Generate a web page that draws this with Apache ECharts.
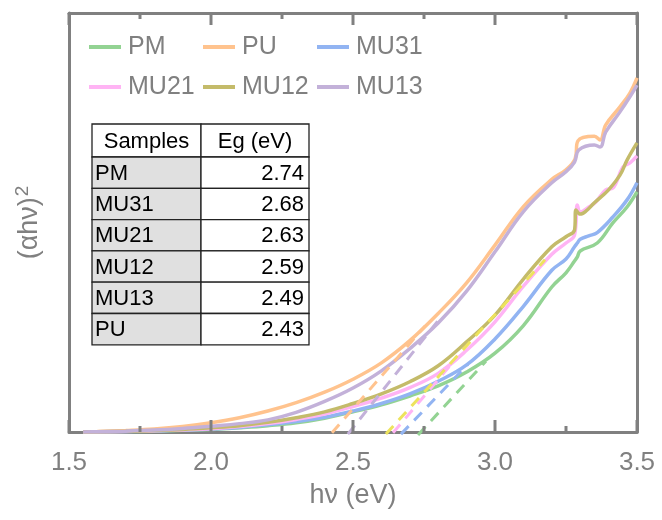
<!DOCTYPE html>
<html>
<head>
    <meta http-equiv="content-type" content="text/html;charset=utf-8">
    <script src="https://cdn.jsdelivr.net/npm/echarts@6/dist/echarts.min.js"></script>
    <style>
        html, body { margin: 0; padding: 0; background: #fff; }
        #chart { width: 662px; height: 520px; }
    </style>
</head>
<body>
<div id="chart"></div>

<script type="text/javascript">
    // photon energy (eV) and (ahv)^2 in arbitrary units
    var pmX = [1.55, 1.7, 1.8, 1.9, 2.0, 2.1, 2.2, 2.3, 2.4, 2.5, 2.6, 2.7, 2.8, 2.9, 3.0, 3.1, 3.2, 3.25, 3.28, 3.29, 3.3, 3.36, 3.415, 3.465, 3.5];
    var pmY = [0, 0.1, 0.2, 0.4, 0.6, 1.0, 1.5, 2.2, 3.3, 4.8, 6.5, 8.6, 11.0, 14.3, 18.8, 25.4, 34.6, 38.0, 40.8, 41.8, 43.2, 45.1, 49.9, 53.7, 57.3];

    var puX = [1.55, 1.6, 1.7, 1.8, 1.9, 2.0, 2.1, 2.2, 2.3, 2.4, 2.5, 2.6, 2.7, 2.8, 2.9, 3.0, 3.1, 3.2, 3.25, 3.282, 3.292, 3.35, 3.37, 3.39, 3.44, 3.475, 3.5];
    var puY = [0, 0.1, 0.35, 0.7, 1.3, 2.2, 3.4, 5.0, 7.0, 9.5, 12.6, 16.5, 21.8, 28.3, 35.6, 44.6, 53.8, 60.3, 62.6, 65.2, 69.5, 70.6, 69.7, 73.3, 77.6, 80.9, 84.5];

    var mu31X = [1.55, 1.7, 1.8, 1.9, 2.0, 2.1, 2.2, 2.3, 2.4, 2.5, 2.6, 2.7, 2.8, 2.9, 3.0, 3.1, 3.2, 3.25, 3.28, 3.29, 3.3, 3.33, 3.36, 3.415, 3.465, 3.5];
    var mu31Y = [0, 0.1, 0.25, 0.45, 0.7, 1.1, 1.7, 2.5, 3.5, 5.0, 6.8, 9.1, 12.1, 16.0, 22.2, 30.0, 38.6, 41.3, 44.2, 45.1, 46.0, 46.8, 47.6, 51.3, 55.4, 59.5];

    var mu21X = [1.55, 1.7, 1.8, 1.9, 2.0, 2.1, 2.2, 2.3, 2.4, 2.5, 2.6, 2.7, 2.8, 2.9, 3.0, 3.1, 3.2, 3.25, 3.28, 3.29, 3.3, 3.33, 3.355, 3.39, 3.415, 3.45, 3.475, 3.5];
    var mu21Y = [0, 0.1, 0.3, 0.5, 0.8, 1.3, 2.0, 3.0, 4.3, 6.1, 8.1, 10.6, 14.0, 19.5, 26.3, 34.8, 42.4, 45.1, 47.0, 54.2, 52.5, 53.7, 54.9, 57.8, 58.2, 63.2, 64.2, 65.9];

    var mu12X = [1.55, 1.7, 1.8, 1.9, 2.0, 2.1, 2.2, 2.3, 2.4, 2.5, 2.6, 2.7, 2.8, 2.9, 3.0, 3.1, 3.2, 3.25, 3.28, 3.285, 3.3, 3.32, 3.35, 3.4, 3.44, 3.465, 3.5];
    var mu12Y = [0, 0.15, 0.35, 0.6, 1.0, 1.5, 2.3, 3.4, 4.8, 6.8, 9.1, 12.0, 15.8, 21.5, 27.9, 36.5, 44.2, 46.6, 48.2, 53.0, 52.0, 52.7, 54.7, 57.8, 61.3, 64.9, 69.0];

    var mu13X = [1.55, 1.6, 1.7, 1.8, 1.9, 2.0, 2.1, 2.2, 2.3, 2.4, 2.5, 2.6, 2.7, 2.8, 2.9, 3.0, 3.1, 3.2, 3.25, 3.28, 3.295, 3.35, 3.37, 3.39, 3.44, 3.475, 3.5];
    var mu13Y = [0, 0.05, 0.2, 0.45, 0.85, 1.4, 2.0, 2.9, 4.7, 7.3, 10.5, 14.6, 19.9, 26.0, 33.6, 43.0, 52.6, 59.5, 62.1, 64.4, 67.3, 68.5, 68.0, 71.6, 76.4, 80.0, 82.8];

    // tangent (Tauc) lines: [start, end] as [eV, value]
    var pmFit = [[2.729, -0.7], [2.968, 16.9]];
    var puFit = [[2.426, -0.2], [2.754, 25.3]];
    var mu31Fit = [[2.669, -0.5], [2.905, 16.2]];
    var mu21Fit = [[2.641, -0.2], [2.870, 18.1]];
    var mu12Fit = [[2.616, -0.5], [3.176, 41.1]];
    var mu13Fit = [[2.482, -0.5], [2.799, 26.5]];

    // table
    var samples = ['PM', 'MU31', 'MU21', 'MU12', 'MU13', 'PU'];
    var egValues = ['2.74', '2.68', '2.63', '2.59', '2.49', '2.43'];

    // x ticks on bottom and top edge: majors every 0.5, minors between
    var majorTicks = [1.5, 2.0, 2.5, 3.0, 3.5];
    var minorTicks = [1.75, 2.25, 2.75, 3.25];

    var font = 'Liberation Sans';
    var grey = '#808080';
    var yMin = 0, yMax = 100;

    function zip(xs, ys) {
        var out = [];
        for (var i = 0; i < xs.length; i++) {
            out.push([xs[i], ys[i]]);
        }
        return out;
    }

    function curve(name, xs, ys, color) {
        return {
            name: name, type: 'line', data: zip(xs, ys),
            showSymbol: false, smooth: 0.4,
            color: color,
            lineStyle: {width: 3.5, color: color},
            z: 2
        };
    }

    function fit(name, pts, color) {
        return {
            name: name, type: 'line', data: pts,
            showSymbol: false, clip: false, silent: true,
            lineStyle: {width: 3, color: color, type: [11, 8]},
            z: 3
        };
    }

    // inward ticks drawn by a custom series, placed with api.coord
    function tickItems() {
        var data = [];
        for (var i = 0; i < majorTicks.length; i++) data.push([majorTicks[i], 12]);
        for (var j = 0; j < minorTicks.length; j++) data.push([minorTicks[j], 6]);
        return data;
    }
    var tickSeries = {
        type: 'custom', data: tickItems(), silent: true, clip: false,
        encode: {x: 0},
        zlevel: 1, z: 1,
        renderItem: function (params, api) {
            var v = api.value(0);
            var len = api.value(1);
            var pb = api.coord([v, yMin]);
            var pt = api.coord([v, yMax]);
            return {
                type: 'group',
                children: [
                    {type: 'line', shape: {x1: pb[0], y1: pb[1], x2: pb[0], y2: pb[1] - len},
                        style: {stroke: grey, lineWidth: 3}},
                    {type: 'line', shape: {x1: pt[0], y1: pt[1], x2: pt[0], y2: pt[1] + len},
                        style: {stroke: grey, lineWidth: 3}}
                ]
            };
        }
    };

    // table built from graphic rects and texts
    var tableEls = [];
    var tx0 = 92, tx1 = 201, tx2 = 309, ty0 = 124, headH = 33, rowH = 31.3;
    function cell(x, y, w, h, fill) {
        tableEls.push({type: 'rect', shape: {x: x, y: y, width: w, height: h},
            style: {fill: fill, stroke: '#222', lineWidth: 1.3}, z: 5});
    }
    function label(x, y, text, align) {
        tableEls.push({type: 'text', x: x, y: y, z: 6,
            style: {text: text, fontSize: 22, fontFamily: font, fill: '#000', align: align, verticalAlign: 'middle'}});
    }
    cell(tx0, ty0, tx1 - tx0, headH, '#fff');
    cell(tx1, ty0, tx2 - tx1, headH, '#fff');
    label((tx0 + tx1) / 2, ty0 + headH / 2 + 1, 'Samples', 'center');
    label((tx1 + tx2) / 2, ty0 + headH / 2 + 1, 'Eg (eV)', 'center');
    for (var i = 0; i < samples.length; i++) {
        var y = ty0 + headH + i * rowH;
        cell(tx0, y, tx1 - tx0, rowH, '#e0e0e0');
        cell(tx1, y, tx2 - tx1, rowH, '#fff');
        label(tx0 + 3, y + rowH / 2 + 1, samples[i], 'left');
        label(tx2 - 5, y + rowH / 2 + 1, egValues[i], 'right');
    }

    var legendBase = {
        orient: 'vertical', top: 27, itemGap: 10, itemWidth: 32, itemHeight: 4,
        icon: 'rect', textStyle: {fontSize: 25, color: grey, fontFamily: font, lineHeight: 30, padding: [0, 0, 0, 2]}
    };
    function legendCol(left, names) {
        var l = Object.assign({}, legendBase);
        l.left = left;
        l.data = names;
        return l;
    }

    function axisCommon() {
        return {
            type: 'value', min: 1.5, max: 3.5, interval: 0.5,
            axisLine: {show: true, onZero: false, lineStyle: {color: grey, width: 3}},
            axisTick: {show: false},
            splitLine: {show: false}, minorSplitLine: {show: false}
        };
    }

    var series = [
        tickSeries,
        curve('PM', pmX, pmY, '#93d393'),
        curve('PU', puX, puY, '#ffc38e'),
        curve('MU31', mu31X, mu31Y, '#92b4f2'),
        curve('MU21', mu21X, mu21Y, '#ffb4f4'),
        curve('MU12', mu12X, mu12Y, '#c4bb6a'),
        curve('MU13', mu13X, mu13Y, '#c3b1d9'),
        fit('PM fit', pmFit, '#93d393'),
        fit('PU fit', puFit, '#ffc38e'),
        fit('MU31 fit', mu31Fit, '#92b4f2'),
        fit('MU21 fit', mu21Fit, '#ffb4f4'),
        fit('MU12 fit', mu12Fit, '#ede35d'),
        fit('MU13 fit', mu13Fit, '#c3b1d9')
    ];

    var myChart = echarts.init(document.getElementById('chart'));
    var option = {
        animation: false,
        backgroundColor: '#fff',
        grid: {show: false, left: 69, right: 25, top: 13, bottom: 88},
        legend: [
            legendCol(84, ['PM', 'MU21']),
            legendCol(198, ['PU', 'MU12']),
            legendCol(312, ['MU31', 'MU13'])
        ],
        xAxis: [
            Object.assign(axisCommon(), {
                position: 'bottom',
                axisLabel: {margin: 18, fontSize: 26, color: grey, fontFamily: font,
                    formatter: function (v) { return v.toFixed(1); }},
                name: 'hν (eV)', nameLocation: 'middle', nameGap: 50,
                nameTextStyle: {fontSize: 27, color: grey, fontFamily: font}
            }),
            Object.assign(axisCommon(), {
                position: 'top', axisLabel: {show: false}
            })
        ],
        yAxis: [
            {
                type: 'value', min: yMin, max: yMax, position: 'left',
                axisLine: {show: true, onZero: false, lineStyle: {color: grey, width: 3}},
                axisTick: {show: false}, axisLabel: {show: false}, splitLine: {show: false},
                name: '{a|(αhν)}{s|2}', nameLocation: 'middle', nameGap: 22, nameRotate: 90,
                nameTextStyle: {
                    color: grey, fontFamily: font,
                    rich: {
                        a: {fontSize: 27, color: grey, fontFamily: font, lineHeight: 34},
                        s: {fontSize: 19, color: grey, fontFamily: font, verticalAlign: 'top', lineHeight: 34, padding: [0, 0, 12, 1]}
                    }
                }
            },
            {
                type: 'value', min: yMin, max: yMax, position: 'right',
                axisLine: {show: true, onZero: false, lineStyle: {color: grey, width: 3}},
                axisTick: {show: false}, axisLabel: {show: false}, splitLine: {show: false}
            }
        ],
        graphic: tableEls,
        series: series
    };
    myChart.setOption(option);
</script>

</body>
</html>
